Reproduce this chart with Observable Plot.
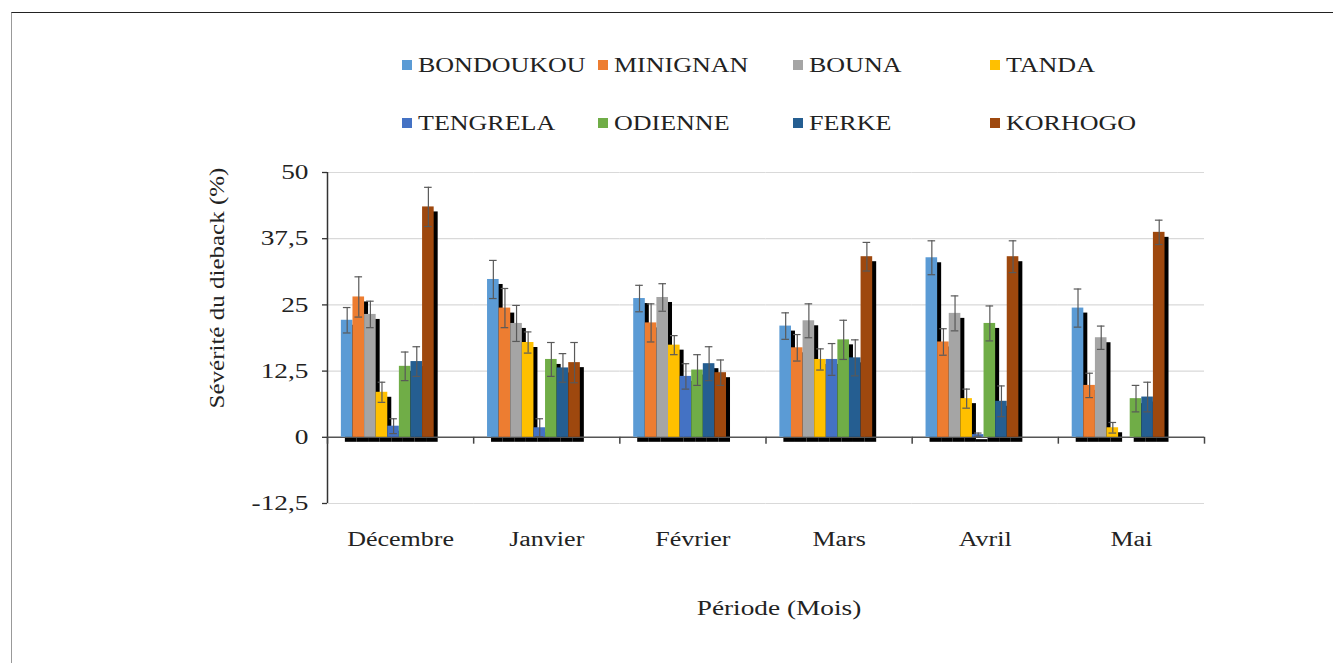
<!DOCTYPE html>
<html>
<head>
<meta charset="utf-8">
<script src="https://cdn.jsdelivr.net/npm/d3@7"></script>
<script src="https://cdn.jsdelivr.net/npm/@observablehq/plot@0.6"></script>
<style>
  html, body { margin: 0; padding: 0; background: #fff; }
  #wrap { position: relative; width: 1333px; height: 663px; overflow: hidden; font-family: "Liberation Serif", "Times New Roman", serif; color: #222; }
  #frame { position: absolute; left: 11px; top: 12px; right: 0; bottom: 0; border-top: 1.5px solid #222; border-left: 1.5px solid #999; pointer-events: none; }
  #chart { position: absolute; left: 0; top: 0; }
  .lg-sq { position: absolute; width: 10px; height: 10px; }
  .lg-tx { position: absolute; font-size: 20px; line-height: 20px; white-space: nowrap; transform-origin: left center; transform: translateY(-50%) scaleX(1.3); }
  #ytitle { position: absolute; left: 217px; top: 288px; font-size: 20px; white-space: nowrap; transform: translate(-50%, -50%) rotate(-90deg) scaleX(1.25); }
  #xtitle { position: absolute; left: 779px; top: 608px; font-size: 21px; white-space: nowrap; transform: translate(-50%, -50%) scaleX(1.3); }
</style>
</head>
<body>
<div id="wrap">
  <div id="chart"></div>
  <div id="legend"></div>
  <div id="ytitle">Sévérité du dieback (%)</div>
  <div id="xtitle">Période (Mois)</div>
  <div id="frame"></div>
</div>
<script>
// ---- data ----
const months = ["Décembre", "Janvier", "Février", "Mars", "Avril", "Mai"];
const stations = ["BONDOUKOU", "MINIGNAN", "BOUNA", "TANDA", "TENGRELA", "ODIENNE", "FERKE", "KORHOGO"];
const colors = ["#5B9BD5", "#ED7D31", "#A5A5A5", "#FFC000", "#4472C4", "#70AD47", "#255E91", "#9E480E"];

const valDecembre = [22.1, 26.5, 23.2, 8.5, 2.1, 13.4, 14.3, 43.5];
const valJanvier  = [29.8, 24.4, 21.5, 17.9, 1.8, 14.7, 13.1, 14.1];
const valFevrier  = [26.2, 21.6, 26.4, 17.4, 11.5, 12.7, 13.9, 12.2];
const valMars     = [21.0, 16.9, 22.0, 14.7, 14.7, 18.4, 15.0, 34.1];
const valAvril    = [33.9, 18.0, 23.4, 7.3, 0.5, 21.5, 6.8, 34.1];
const valMai      = [24.4, 9.8, 18.8, 1.8, 0, 7.3, 7.6, 38.7];

const errDecembre = [2.4, 3.8, 2.5, 1.9, 1.4, 2.7, 2.8, 3.7];
const errJanvier  = [3.6, 3.7, 3.4, 2.0, 1.7, 3.2, 2.7, 3.8];
const errFevrier  = [2.5, 3.6, 2.6, 1.8, 2.4, 2.9, 3.2, 2.4];
const errMars     = [2.5, 2.5, 3.2, 2.0, 3.0, 3.7, 3.4, 2.7];
const errAvril    = [3.2, 2.5, 3.3, 1.8, 0.3, 3.3, 2.9, 3.0];
const errMai      = [3.6, 2.3, 2.2, 1.0, 0, 2.5, 2.8, 2.3];

const yTicks = [-12.5, 0, 12.5, 25, 37.5, 50];
const yTickLabels = ["-12,5", "0", "12,5", "25", "37,5", "50"];

// ---- table ----
const values = [valDecembre, valJanvier, valFevrier, valMars, valAvril, valMai];
const errors = [errDecembre, errJanvier, errFevrier, errMars, errAvril, errMai];
const rows = [];
months.forEach((m, i) => stations.forEach((s, j) => rows.push({month: m, station: s, value: values[i][j], err: errors[i][j]})));
const errRows = rows.filter(d => d.err > 0);

// ---- layout ----
const W = 1333, H = 663, mL = 327, mR = 129, mT = 172, mB = 160;
const padOuter = 2.3, align = 0.26;
const bw = (W - mL - mR) / months.length;
const step = bw / (stations.length + 2 * padOuter);
const start = align * (bw - step * stations.length);
const leftEdgeDx = -(start + step / 2);
const rightEdgeDx = bw - (start + step * (stations.length - 0.5));

const chart = Plot.plot({
  width: W, height: H,
  marginLeft: mL, marginRight: mR, marginTop: mT, marginBottom: mB,
  style: {fontFamily: "'Liberation Serif', 'Times New Roman', serif", fontSize: "20px", color: "#222", background: "transparent"},
  fx: {domain: months, padding: 0, round: false},
  x: {domain: stations, paddingInner: 0, paddingOuter: padOuter, align: align, round: false, axis: null},
  y: {domain: [-12.5, 50]},
  color: {domain: stations, range: colors},
  marks: [
    Plot.ruleY(yTicks.filter(t => t !== 0), {stroke: "#d9d9d9", strokeWidth: 1.2}),
    Plot.axisY({ticks: yTicks, tickFormat: d => yTickLabels[yTicks.indexOf(d)], tickSize: 5, tickPadding: 14, fontSize: 21, label: null, stroke: "#333", strokeWidth: 1.3}),
    Plot.ruleX([months[0]], {fx: d => d, x: () => stations[0], y1: -12.5, y2: 50, dx: leftEdgeDx, stroke: "#333", strokeWidth: 1.5}),
    // 3D-like shadows
    Plot.barY(rows, {fx: "month", x: "station", y: "value", fill: "#000", dx: 4, dy: 5}),
    Plot.ruleY([0], {stroke: "#555", strokeWidth: 1.6}),
    // boundary ticks on the zero line
    Plot.ruleX(months, {fx: d => d, x: () => stations[0], y1: 0, y2: -1.3, dx: leftEdgeDx, stroke: "#444", strokeWidth: 1.5}),
    Plot.ruleX([months[months.length - 1]], {fx: d => d, x: () => stations[stations.length - 1], y1: 0, y2: -1.3, dx: rightEdgeDx, stroke: "#444", strokeWidth: 1.5}),
    Plot.barY(rows, {fx: "month", x: "station", y: "value", fill: "station"}),
    Plot.ruleX(errRows, {fx: "month", x: "station", y1: d => d.value - d.err, y2: d => d.value + d.err, stroke: "#595959", strokeWidth: 1.2}),
    Plot.tickY(errRows, {fx: "month", x: "station", y: d => d.value + d.err, stroke: "#595959", strokeWidth: 1.2, insetLeft: 2, insetRight: 2}),
    Plot.tickY(errRows, {fx: "month", x: "station", y: d => d.value - d.err, stroke: "#595959", strokeWidth: 1.2, insetLeft: 2, insetRight: 2}),
    Plot.axisFx({anchor: "bottom", tickSize: 0, tickPadding: 28, fontSize: 20, label: null})
  ]
});
document.getElementById("chart").appendChild(chart);

// horizontal stretch of the original lettering
chart.querySelectorAll("text").forEach(t => {
  const len = t.getComputedTextLength();
  if (len > 0) {
    t.setAttribute("textLength", (len * 1.3).toFixed(1));
    t.setAttribute("lengthAdjust", "spacingAndGlyphs");
  }
});

// ---- legend ----
const legendCols = [402, 598, 793, 990];
const legendRows = [65, 123];
const legend = document.getElementById("legend");
stations.forEach((s, i) => {
  const x = legendCols[i % 4], y = legendRows[Math.floor(i / 4)];
  const sq = document.createElement("div");
  sq.className = "lg-sq";
  sq.style.left = x + "px";
  sq.style.top = (y - 5) + "px";
  sq.style.background = colors[i];
  legend.appendChild(sq);
  const tx = document.createElement("div");
  tx.className = "lg-tx";
  tx.style.left = (x + 16) + "px";
  tx.style.top = y + "px";
  tx.textContent = s;
  legend.appendChild(tx);
});
</script>
</body>
</html>
